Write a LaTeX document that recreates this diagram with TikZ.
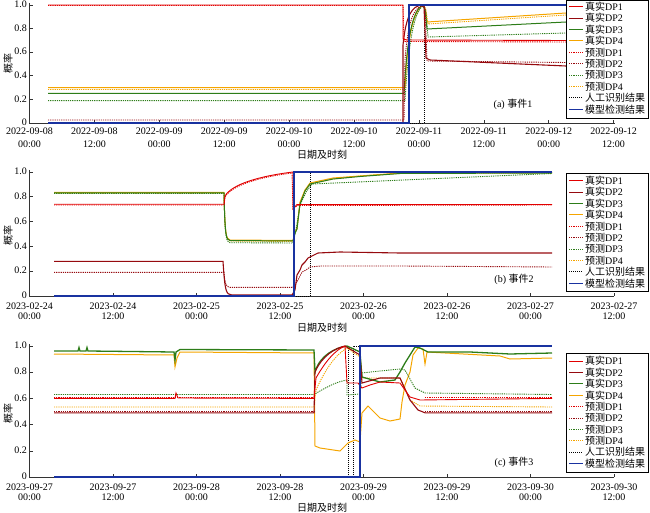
\documentclass[tikz,border=0pt]{standalone}
\usepackage{fontspec}
\setmainfont{Liberation Serif}
\newfontfamily\cjk{Noto Sans CJK SC}
\usetikzlibrary{positioning}

\definecolor{dpred}{RGB}{225,0,0}
\definecolor{dpdark}{RGB}{150,10,15}
\definecolor{dpgreen}{RGB}{45,125,25}
\definecolor{dporange}{RGB}{245,165,0}
\definecolor{dpblue}{RGB}{25,50,160}

\tikzset{
  realA/.style={draw=dpred, line width=0.9pt},
  realB/.style={draw=dpdark, line width=1.1pt},
  realC/.style={draw=dpgreen, line width=1pt},
  realD/.style={draw=dporange, line width=1pt},
  predA/.style={draw=dpred, line width=0.9pt, dash pattern=on 1.2pt off 1pt},
  predB/.style={draw=dpdark, line width=0.9pt, dash pattern=on 1.2pt off 1pt},
  predC/.style={draw=dpgreen, line width=0.9pt, dash pattern=on 1.2pt off 1pt},
  predD/.style={draw=dporange, line width=0.9pt, dash pattern=on 1.2pt off 1pt},
  manual/.style={draw=black, line width=0.9pt, dash pattern=on 1pt off 1pt},
  model/.style={draw=dpblue, line width=1.2pt},
  axisline/.style={draw=black!80, line width=0.6pt},
  ylab/.style={font=\fontsize{10}{10}\selectfont, anchor=east, inner sep=0pt},
  legbox/.style={draw=black, fill=white, line width=0.7pt},
  legtext/.style={font=\fontsize{10}{10}\selectfont, anchor=west, inner sep=0pt},
  plain/.style={font=\fontsize{10}{10}\selectfont, inner sep=0pt}
}

% legend: name prefix, top, bottom, first row
\newcommand{\dplegend}[4]{%
  \draw[legbox] (566,#2) rectangle (648,#3);
  \foreach \sty/\txt [count=\i from 0] in {realA/{\cjk 真实}DP1,realB/{\cjk 真实}DP2,%
      realC/{\cjk 真实}DP3,realD/{\cjk 真实}DP4,predA/{\cjk 预测}DP1,predB/{\cjk 预测}DP2,%
      predC/{\cjk 预测}DP3,predD/{\cjk 预测}DP4,manual/{\cjk 人工识别结果},model/{\cjk 模型检测结果}}{
    \edef\legline{\noexpand\draw[\sty]}
    \legline (569,{#4+11.4*\i}) -- ++(14,0);
    \node[legtext] (#1\i) at (585,{#4+11.4*\i}) {\txt};
  }
}

\begin{document}
\begin{tikzpicture}[x=1pt,y=-1pt]
\useasboundingbox (0,0) rectangle (650,513);

%% ---------------- panel a
\draw[axisline] (29.5,3) -- (29.5,123) -- (615,123);
\foreach \v/\t [count=\i] in {0/0,0.2/0.2,0.4/0.4,0.6/0.6,0.8/0.8,1/1.0}{
  \draw[axisline] (29.5,{123-118*\v}) -- ++(3,0);
  \node[ylab] (ya\i) at (27,{122.5-118*\v}) {\t};
}
\foreach \d/\h [count=\i from 0] in {08/00:00,08/12:00,09/00:00,09/12:00,10/00:00,10/12:00,11/00:00,11/12:00,12/00:00,12/12:00}{
  \draw[axisline] ({29.5+64.9*\i},123) -- ++(0,-3);
  \node[font=\fontsize{10}{13.3}\selectfont, align=center, anchor=north, inner sep=0pt] (xa\i) at ({29.5+64.9*\i},127.6) {2022-09-\d\\\h};
}
\node[plain, font=\fontsize{10}{10}\cjk] (xtitlea) at (322,155) {日期及时刻};
\node[plain, font=\fontsize{10}{10}\cjk, rotate=90] (ytitlea) at (8,64) {概率};

\draw[manual] (48,123) -- (424,123) -- (424,5) -- (566,5);
\draw[predD] (48,89.5) -- (405,89.5) .. controls (407,40) and (413,10) .. (423,6) -- (426,10) -- (428,24) -- (566,15);
\draw[realD] (48,87.6) -- (405,87.6) .. controls (407,40) and (413,10) .. (423,5) -- (425,8) -- (427,22) -- (566,13);
\draw[predC] (48,100.6) -- (405,100.6) .. controls (408,50) and (413,12) .. (423,6) -- (426,12) -- (428,37) -- (566,33);
\draw[realC] (48,93.5) -- (404,93.5) .. controls (407,40) and (412,10) .. (423,5) -- (425,10) -- (427,29) -- (566,22);
\draw[predB] (48,120) -- (404,120) -- (405,60) .. controls (408,20) and (414,8) .. (422,6) -- (425,8) -- (427,61) -- (566,62.5);
\draw[realB] (48,123) -- (403,123) -- (403,45) .. controls (406,15) and (412,6) .. (422,5) -- (424,6) -- (426,58) -- (430,60) -- (566,66);
\draw[predA] (48,5.5) -- (403,5.5) -- (404,41.5) -- (566,42);
\draw[realA] (48,5) -- (403,5) -- (403,39) -- (407,40) -- (566,40.5);
\draw[model] (48,123) -- (409,123) -- (409,5) -- (566,5);
\node[plain, font=\fontsize{10}{10}\selectfont] (capa) at (513,104) {(a) {\cjk 事件}1};
\dplegend{lga}{0.5}{118}{6.7}

%% ---------------- panel b
\draw[axisline] (29.5,170) -- (29.5,296) -- (614,296);
\foreach \v/\t [count=\i] in {0/0,0.2/0.2,0.4/0.4,0.6/0.6,0.8/0.8,1/1.0}{
  \draw[axisline] (29.5,{296-124*\v}) -- ++(3,0);
  \node[ylab] (yb\i) at (27,{295.5-124*\v}) {\t};
}
\foreach \d/\h [count=\i from 0] in {24/00:00,24/12:00,25/00:00,25/12:00,26/00:00,26/12:00,27/00:00,27/12:00}{
  \draw[axisline] ({29.5+83.5*\i},296) -- ++(0,-3);
  \node[font=\fontsize{10}{10}\selectfont, align=center, anchor=north, inner sep=0pt] (xb\i) at ({29.5+83.5*\i},302.3) {2023-02-\d\\\h};
}
\node[plain, font=\fontsize{10}{10}\cjk] (xtitleb) at (322,328) {日期及时刻};
\node[plain, font=\fontsize{10}{10}\cjk, rotate=90] (ytitleb) at (8,235) {概率};

\draw[manual] (54,296) -- (310,296) -- (310,172) -- (552,172);
\draw[predD] (54,193.5) -- (224,193.5) .. controls (225,236) and (226,240) .. (230,241) -- (293,241.5) -- (295,233) -- (297,229) -- (300,203) -- (305,191) -- (310,184) -- (333,179) -- (360,176) -- (400,173.5) -- (552,173);
\draw[realD] (54,192.5) -- (224,192.5) .. controls (225,235) and (226,239) .. (230,240) -- (293,240.5) -- (295,232) -- (297,228) -- (300,202) -- (305,190) -- (310,183) -- (333,178) -- (360,176) -- (400,173) -- (552,172.5);
\draw[realC] (54,193) -- (224,193) .. controls (225,236) and (226,240) .. (230,240.5) -- (293,241) -- (295,233) -- (297,229) -- (300,204) -- (305,191) -- (310,184) -- (333,179) -- (360,176.5) -- (400,173.5) -- (552,173);
\draw[predC] (54,193.5) -- (224,193.5) .. controls (225,238) and (226,242) .. (230,242.7) -- (293,243) -- (296,230) -- (300,205) -- (306,192) -- (312,184) -- (552,173.5);
\draw[predB] (54,272.4) -- (224,272.4) .. controls (225,284) and (226,287) .. (230,287.3) -- (292,287.3) -- (295,285) -- (298,280) -- (302,272) -- (306,270) -- (310,267) -- (320,266) -- (400,266) -- (552,267);
\draw[realB] (54,261.3) -- (223,261.3) .. controls (225,292) and (226,294.5) .. (232,295) -- (292,295) -- (295,290) -- (297,275) -- (300,270) -- (302,265) -- (305,262) -- (308,258) -- (312,256) -- (318,253) -- (340,252) -- (400,253) -- (552,253);
\draw[predA] (54,205) -- (224,205) -- (225,197) .. controls (232,185) and (260,177) .. (292,173) -- (293,209) -- (297,205.5) -- (552,205);
\draw[realA] (54,204.2) -- (224,204.2) -- (225,196) .. controls (232,184) and (260,176) .. (293,172) -- (293,209) -- (297,204.5) -- (552,204.5);
\draw[model] (54,296) -- (294,296) -- (294,172) -- (552,172);
\node[plain, font=\fontsize{10}{10}\selectfont] (capb) at (514,279) {(b) {\cjk 事件}2};
\dplegend{lgb}{173}{291}{180.7}

%% ---------------- panel c
\draw[axisline] (29.5,344) -- (29.5,477) -- (614,477);
\foreach \v/\t [count=\i] in {0/0,0.2/0.2,0.4/0.4,0.6/0.6,0.8/0.8,1/1.0}{
  \draw[axisline] (29.5,{477-131*\v}) -- ++(3,0);
  \node[ylab] (yc\i) at (27,{476.5-131*\v}) {\t};
}
\foreach \d/\h [count=\i from 0] in {27/00:00,27/12:00,28/00:00,28/12:00,29/00:00,29/12:00,30/00:00,30/12:00}{
  \draw[axisline] ({29.5+83.5*\i},477) -- ++(0,-3);
  \node[font=\fontsize{10}{10.6}\selectfont, align=center, anchor=north, inner sep=0pt] (xc\i) at ({29.5+83.5*\i},483.3) {2023-09-\d\\\h};
}
\node[plain, font=\fontsize{10}{10}\cjk] (xtitlec) at (322,508) {日期及时刻};
\node[plain, font=\fontsize{10}{10}\cjk, rotate=90] (ytitlec) at (8,413) {概率};

\draw[manual] (54,477) -- (348,477) -- (348,346);
\draw[manual] (353,477) -- (353,346) -- (552,346);
\draw[predD] (54,407) -- (314,407) -- (316,390) .. controls (325,370) and (335,355) .. (347,348) -- (360,357) -- (362,378) -- (400,378) -- (410,400) -- (420,406) -- (552,407);
\draw[realD] (54,354) -- (174,355) -- (175,367) -- (177,358) -- (180,352) -- (314,353) -- (315,446) -- (320,448) -- (340,451) -- (348,443) -- (355,440) -- (360,442) -- (362,413) -- (368,406) -- (374,412) -- (380,418) -- (390,421) -- (400,419) -- (402,402) -- (405,385) -- (410,372) -- (413,355) -- (418,348) -- (423,349) -- (425,364) -- (427,352) -- (500,356) -- (510,359) -- (552,358);
\draw[predC] (54,394.5) -- (314,394.5) .. controls (325,388) and (335,382) .. (347,380) -- (347,395) -- (360,394) -- (362,373) -- (380,371) -- (400,369) -- (405,370) -- (415,388) -- (425,393) -- (552,394.5);
\draw[realC, line width=1.3pt] (54,351) -- (78,351) -- (79,347.5) -- (80,351) -- (86,351) -- (87,347.5) -- (88,351) -- (174,352) -- (175,360) -- (176,352) -- (180,349.5) -- (314,350) -- (315,372) .. controls (320,355) and (335,348) .. (347,346) -- (360,352) -- (362,377) -- (380,382) -- (395,380) -- (400,372) -- (405,363) -- (410,355) -- (415,347) -- (420,348) -- (428,352) -- (470,352) -- (510,354) -- (552,353);
\draw[predB] (54,411) -- (314,411);
\draw[predB] (425,411) -- (552,411);
\draw[realB] (54,412.8) -- (314,412.8) -- (315,372) .. controls (322,356) and (335,348) .. (345,346) -- (360,355) -- (362,383) -- (380,378) -- (400,378) -- (410,400) -- (418,410) -- (425,412.8) -- (552,412.8);
\draw[predA] (54,397) -- (314,397);
\draw[predA] (425,397) -- (552,397);
\draw[realA] (54,398.4) -- (175,398.4) -- (176,393) -- (178,398) -- (314,398.4) -- (316,378) .. controls (325,362) and (335,350) .. (345,346) -- (347,383) -- (358,383) -- (362,388) -- (370,385) -- (380,382) -- (400,383) -- (410,397) -- (420,400) -- (552,398.4);
\draw[model] (54,477) -- (360,477) -- (360,346) -- (552,346);
\node[plain, font=\fontsize{10}{10}\selectfont] (capc) at (514,462) {(c) {\cjk 事件}3};
\dplegend{lgc}{353}{472}{361}

\end{tikzpicture}
\end{document}
